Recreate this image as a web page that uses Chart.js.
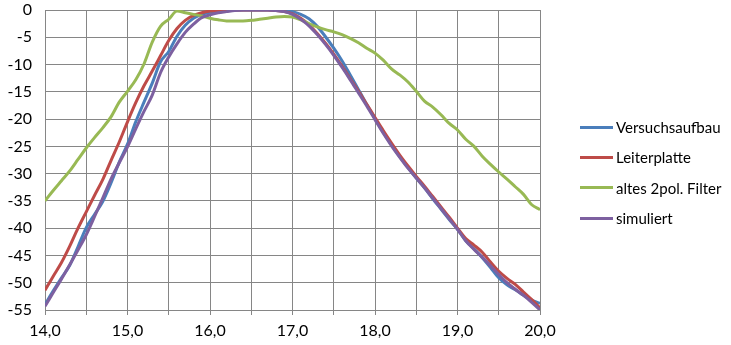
<!DOCTYPE html>
<html>
<head>
<meta charset="utf-8">
<script src="https://cdn.jsdelivr.net/npm/chart.js@4"></script>
<style>
  body { margin: 0; background: #fff; }
  #wrap { position: relative; width: 731px; height: 345px; }
  #legend { position: absolute; left: 580px; top: 112px; font: 15px Lato, "Open Sans", sans-serif; color: #000; }
  #legend div { height: 30.3px; display: flex; align-items: center; }
  #legend span.swatch { display: inline-block; width: 33px; height: 3px; margin-right: 3px; }
</style>
</head>
<body>
<div id="wrap">
  <canvas id="myChart" width="731" height="345"></canvas>
  <div id="legend"></div>
</div>
<script>
// frequency axis (14,0 ... 20,0)
var freq = [
  14.0, 14.1, 14.2, 14.3, 14.4, 14.5, 14.6, 14.7, 14.8, 14.9,
  15.0, 15.1, 15.2, 15.3, 15.4, 15.5, 15.6, 15.7, 15.8, 15.9,
  16.0, 16.1, 16.2, 16.3, 16.4, 16.5, 16.6, 16.7, 16.8, 16.9,
  17.0, 17.1, 17.2, 17.3, 17.4, 17.5, 17.6, 17.7, 17.8, 17.9,
  18.0, 18.1, 18.2, 18.3, 18.4, 18.5, 18.6, 18.7, 18.8, 18.9,
  19.0, 19.1, 19.2, 19.3, 19.4, 19.5, 19.6, 19.7, 19.8, 19.9,
  20.0
];

var versuchsaufbau = [
  -54.0, -51.5, -49.1, -46.8, -43.4, -39.9, -37.5, -35.1, -31.7, -27.9,
  -24.6, -20.5, -16.9, -13.4, -9.5, -7.6, -4.8, -2.8, -1.5, -0.8,
  -0.4, -0.2, -0.1, 0, 0, 0, 0, 0, 0, -0.1,
  -0.3, -0.8, -1.6, -3.0, -4.9, -7.0, -9.3, -11.9, -14.6, -17.3,
  -19.9, -22.4, -24.7, -26.9, -28.9, -30.8, -32.6, -34.6, -36.5, -38.4,
  -40.2, -42.3, -43.8, -45.4, -47.2, -49.1, -50.4, -51.3, -52.3, -53.2,
  -53.8
];

var leiterplatte = [
  -51.4, -48.8, -46.3, -43.3, -40.0, -37.0, -34.0, -31.1, -27.6, -24.2,
  -20.5, -17.0, -13.9, -11.2, -8.4, -5.6, -3.4, -1.9, -1.0, -0.5,
  -0.2, -0.1, 0, 0, 0, 0, 0, 0, -0.1, -0.3,
  -0.7, -1.5, -2.7, -4.3, -6.1, -8.1, -10.3, -12.6, -14.9, -17.3,
  -19.7, -22.1, -24.4, -26.6, -28.6, -30.5, -32.3, -34.2, -36.1, -38.0,
  -40.0, -41.9, -43.1, -44.4, -46.2, -47.9, -49.2, -50.3, -51.7, -53.1,
  -54.6
];

var altesFilter = [
  -35.0, -33.1, -31.3, -29.5, -27.4, -25.3, -23.4, -21.6, -19.6, -16.9,
  -14.9, -12.8, -9.9, -5.9, -3.0, -1.7, -0.2, -0.5, -0.8, -1.1,
  -1.5, -1.8, -2.0, -2.0, -2.0, -1.9, -1.7, -1.5, -1.3, -1.2,
  -1.3, -1.8, -2.5, -3.1, -3.6, -4.0, -4.5, -5.2, -6.0, -7.0,
  -7.9, -9.2, -10.8, -11.9, -13.2, -14.9, -16.7, -17.8, -19.2, -20.8,
  -22.0, -23.7, -25.0, -26.8, -28.3, -29.7, -31.0, -32.4, -33.8, -35.7,
  -36.6
];

var simuliert = [
  -54.3, -51.8, -49.3, -46.7, -44.0, -41.2, -37.9, -34.5, -31.0, -28.0,
  -25.1, -21.8, -18.6, -15.6, -11.5, -8.6, -6.2, -4.1, -2.6, -1.4,
  -0.9, -0.5, -0.3, -0.1, 0, 0, 0, 0, -0.1, -0.3,
  -0.8, -1.7, -2.9, -4.5, -6.3, -8.3, -10.5, -12.8, -15.2, -17.6,
  -20.1, -22.6, -24.9, -27.0, -29.0, -30.8, -32.6, -34.5, -36.4, -38.3,
  -40.2, -42.3, -43.9, -45.3, -46.9, -48.5, -50.0, -51.2, -52.3, -53.6,
  -55.0
];

var seriesNames = ['Versuchsaufbau', 'Leiterplatte', 'altes 2pol. Filter', 'simuliert'];
var seriesColors = ['#4A7EBB', '#BE4B48', '#98B954', '#7D60A0'];
var seriesData = [versuchsaufbau, leiterplatte, altesFilter, simuliert];

var gridColor = '#868686';
var font = { family: 'Lato, "Open Sans", sans-serif', size: 16 };

function points(values) {
  return values.map(function (v, i) { return { x: freq[i], y: v }; });
}

var datasets = seriesData.map(function (values, i) {
  return {
    label: seriesNames[i],
    data: points(values),
    borderColor: seriesColors[i],
    borderWidth: 3,
    pointRadius: 0,
    tension: 0.4,
    cubicInterpolationMode: 'monotone',
    order: 4 - i
  };
});

new Chart(document.getElementById('myChart'), {
  type: 'line',
  data: { datasets: datasets },
  options: {
    responsive: false,
    animation: false,
    devicePixelRatio: 1,
    layout: { padding: { top: 10, right: 191, left: 0, bottom: 0 } },
    plugins: { legend: { display: false }, tooltip: { enabled: false } },
    scales: {
      x: {
        type: 'linear',
        min: 14,
        max: 20,
        afterFit: function (scale) {
          scale.height = 35;
          scale.paddingLeft = 0;
          scale.paddingRight = 0;
        },
        afterBuildTicks: function (scale) {
          var t = [];
          for (var v = 14; v <= 20.001; v += 0.5) t.push({ value: Math.round(v * 10) / 10 });
          scale.ticks = t;
        },
        ticks: {
          autoSkip: false,
          maxRotation: 0,
          color: '#000',
          font: font,
          padding: 6,
          callback: function (v) { return v % 1 === 0 ? v.toFixed(1).replace('.', ',') : ''; }
        },
        grid: { color: gridColor, tickLength: 5, tickColor: gridColor },
        border: { color: gridColor }
      },
      y: {
        min: -55,
        max: 0,
        afterFit: function (scale) {
          scale.width = 45;
          scale.paddingTop = 0;
          scale.paddingBottom = 0;
        },
        ticks: { stepSize: 5, color: '#000', font: font, padding: 13 },
        grid: { color: gridColor, drawTicks: false },
        border: { color: gridColor }
      }
    }
  }
});

// legend on the right
var legend = document.getElementById('legend');
seriesNames.forEach(function (name, i) {
  var row = document.createElement('div');
  var sw = document.createElement('span');
  sw.className = 'swatch';
  sw.style.background = seriesColors[i];
  row.appendChild(sw);
  row.appendChild(document.createTextNode(name));
  legend.appendChild(row);
});
</script>
</body>
</html>
